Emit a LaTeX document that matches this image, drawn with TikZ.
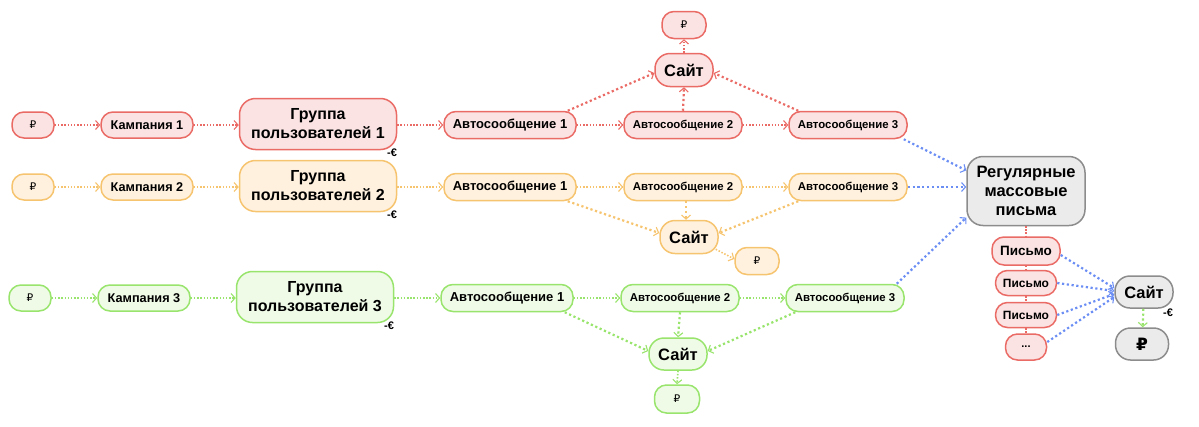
\documentclass[tikz,border=0pt]{standalone}
\usepackage{fontspec}
\setmainfont{Liberation Sans}
\newfontfamily\rubfont{DejaVu Sans}
\usetikzlibrary{arrows.meta}

\definecolor{redline}{HTML}{EA6B66}
\definecolor{redfill}{HTML}{FAE3E2}
\definecolor{orline}{HTML}{F6C46E}
\definecolor{orfill}{HTML}{FFF1DE}
\definecolor{grline}{HTML}{98E46C}
\definecolor{grfill}{HTML}{EFFBE7}
\definecolor{gyline}{HTML}{8C8C8C}
\definecolor{gyfill}{HTML}{EBEBEB}
\definecolor{blueline}{HTML}{6B8EF4}

\newcommand{\fsz}[2]{\fontsize{#1}{#2}\selectfont}

\begin{document}
\begin{tikzpicture}[x=1pt, y=-1pt,
  box/.style={draw, line width=1.5pt, rounded corners=12pt, inner sep=0pt, align=center},
  money/.style={box, minimum width=42pt, minimum height=26pt, font=\rubfont\fsz{10.5}{12}},
  site/.style={box, rounded corners=15pt, minimum width=58pt, minimum height=33pt, font=\bfseries\fsz{16.5}{19}},
  eur/.style={inner sep=0pt, font=\bfseries\fsz{11}{12}},
  flow/.style={line width=1.6pt, dash pattern=on 1.5pt off 1.7pt,
    -{Straight Barb[length=4pt,width=9pt,line width=1.1pt]}},
  jump/.style={flow, line width=2.2pt, dash pattern=on 2.2pt off 2.6pt},
  link/.style={line width=1.3pt, dash pattern=on 1.4pt off 1.7pt}]
  \useasboundingbox (0,0) rectangle (1199,426);

  % three campaign rows
  \foreach \r/\y/\dx/\ln/\fl in {1/125/0/redline/redfill, 2/187/0/orline/orfill, 3/298/-3/grline/grfill} {
    \node[money, draw=\ln, fill=\fl] (m\r) at (33+\dx,\y) {₽};
    \node[box, draw=\ln, fill=\fl, minimum width=92pt, minimum height=26pt, font=\bfseries\fsz{12.7}{14}]
      (k\r) at (147+\dx,\y) {Кампания \r};
    \node[box, draw=\ln, fill=\fl, rounded corners=16pt, minimum width=157pt, minimum height=51pt, font=\bfseries\fsz{16}{19}]
      (g\r) at (318+\dx,\y-1) {Группа\\пользователей \r};
    \node[box, draw=\ln, fill=\fl, minimum width=132pt, minimum height=27pt, font=\bfseries\fsz{13}{15}]
      (a\r1) at (510+\dx,\y) {Автосообщение 1};
    \node[box, draw=\ln, fill=\fl, minimum width=118pt, minimum height=27pt, font=\bfseries\fsz{11.4}{13}]
      (a\r2) at (683+\dx,\y) {Автосообщение 2};
    \node[box, draw=\ln, fill=\fl, minimum width=118pt, minimum height=27pt, font=\bfseries\fsz{11.4}{13}]
      (a\r3) at (848+\dx,\y) {Автосообщение 3};
    \node[eur] (e\r) at (392+\dx,\y+28) {-€};

    \draw[flow, draw=\ln] (m\r) -- (k\r);
    \draw[flow, draw=\ln] (k\r) -- (g\r.west |- k\r);
    \draw[flow, draw=\ln] (g\r.east |- a\r1) -- (a\r1);
    \draw[flow, draw=\ln] (a\r1) -- (a\r2);
    \draw[flow, draw=\ln] (a\r2) -- (a\r3);
  }

  % sites of the rows
  \node[site, draw=redline, fill=redfill] (s1) at (684,70) {Сайт};
  \node[money, draw=redline, fill=redfill, minimum width=44pt, minimum height=27pt] (p1) at (684,25) {₽};
  \node[site, draw=orline, fill=orfill] (s2) at (689,237) {Сайт};
  \node[money, draw=orline, fill=orfill, minimum width=44pt, minimum height=27pt] (p2) at (757,261) {₽};
  \node[site, draw=grline, fill=grfill, minimum height=32pt] (s3) at (678,354) {Сайт};
  \node[money, draw=grline, fill=grfill, minimum width=45pt, minimum height=28pt] (p3) at (677,399) {₽};

  \draw[jump, draw=redline] ([xshift=-9pt]a11.north east) -- ([yshift=-3pt]s1.west);
  \draw[jump, draw=redline] (a12.north) -- (s1.south);
  \draw[jump, draw=redline] ([xshift=10pt]a13.north west) -- ([yshift=-3pt]s1.east);
  \draw[flow, draw=redline] (s1.north) -- (p1.south);

  \draw[jump, draw=orline] ([xshift=-9pt]a21.south east) -- ([yshift=4pt]s2.west);
  \draw[jump, draw=orline] ([xshift=3pt]a22.south) -- ([xshift=3pt]a22.south |- s2.north);
  \draw[jump, draw=orline] ([xshift=10pt]a23.south west) -- ([yshift=4pt]s2.east);
  \draw[flow, draw=orline] ([xshift=-3pt,yshift=5pt]s2.south east) -- ([yshift=2pt]p2.west);

  \draw[jump, draw=grline] ([xshift=-9pt]a31.south east) -- ([yshift=3pt]s3.west);
  \draw[jump, draw=grline] (a32.south) -- (s3.north);
  \draw[jump, draw=grline] ([xshift=10pt]a33.south west) -- ([yshift=3pt]s3.east);
  \draw[flow, draw=grline] (s3.south) -- (p3.north);

  % regular mailing
  \node[box, draw=gyline, fill=gyfill, rounded corners=16pt, minimum width=118pt, minimum height=69pt, font=\bfseries\fsz{16.5}{19}]
    (rm) at (1026,191) {Регулярные\\массовые\\письма};
  \node[box, draw=redline, fill=redfill, minimum width=68pt, minimum height=28pt, font=\bfseries\fsz{13.5}{15}] (l1) at (1026,251) {Письмо};
  \node[box, draw=redline, fill=redfill, minimum width=61pt, minimum height=25pt, font=\bfseries\fsz{12}{14}] (l2) at (1026,283) {Письмо};
  \node[box, draw=redline, fill=redfill, minimum width=61pt, minimum height=25pt, font=\bfseries\fsz{12}{14}] (l3) at (1026,315) {Письмо};
  \node[box, draw=redline, fill=redfill, minimum width=41pt, minimum height=26pt, font=\bfseries\fsz{11}{13}] (l4) at (1026,347) {...};
  \node[site, draw=gyline, fill=gyfill, minimum height=32pt] (sg) at (1144,292) {Сайт};
  \node[box, draw=gyline, fill=gyfill, rounded corners=15pt, minimum width=53pt, minimum height=32pt, font=\rubfont\bfseries\fsz{17}{20}]
    (pg) at (1142,344) {₽};
  \node[eur] (e4) at (1168,313) {-€};

  \draw[jump, draw=blueline] ([xshift=-4pt]a13.south east) -- (rm.161);
  \draw[jump, draw=blueline] (a23.east) -- (a23.east -| rm.west);
  \draw[jump, draw=blueline] ([xshift=-8pt]a33.north east) -- (rm.204);

  \draw[link, draw=redline] (rm) -- (l1);
  \draw[link, draw=redline] (l1) -- (l2);
  \draw[link, draw=redline] (l2) -- (l3);
  \draw[link, draw=redline] (l3) -- (l4);

  \draw[jump, draw=blueline] ([yshift=-4pt]l1.east) -- ([yshift=4pt]sg.west);
  \draw[jump, draw=blueline] (l2.east) -- ([yshift=1pt]sg.west);
  \draw[jump, draw=blueline] (l3.east) -- ([yshift=-2pt]sg.west);
  \draw[jump, draw=blueline] ([yshift=5pt]l4.east) -- ([yshift=-5pt]sg.west);
  \draw[jump, draw=grline] (sg) -- (pg);
\end{tikzpicture}
\end{document}
